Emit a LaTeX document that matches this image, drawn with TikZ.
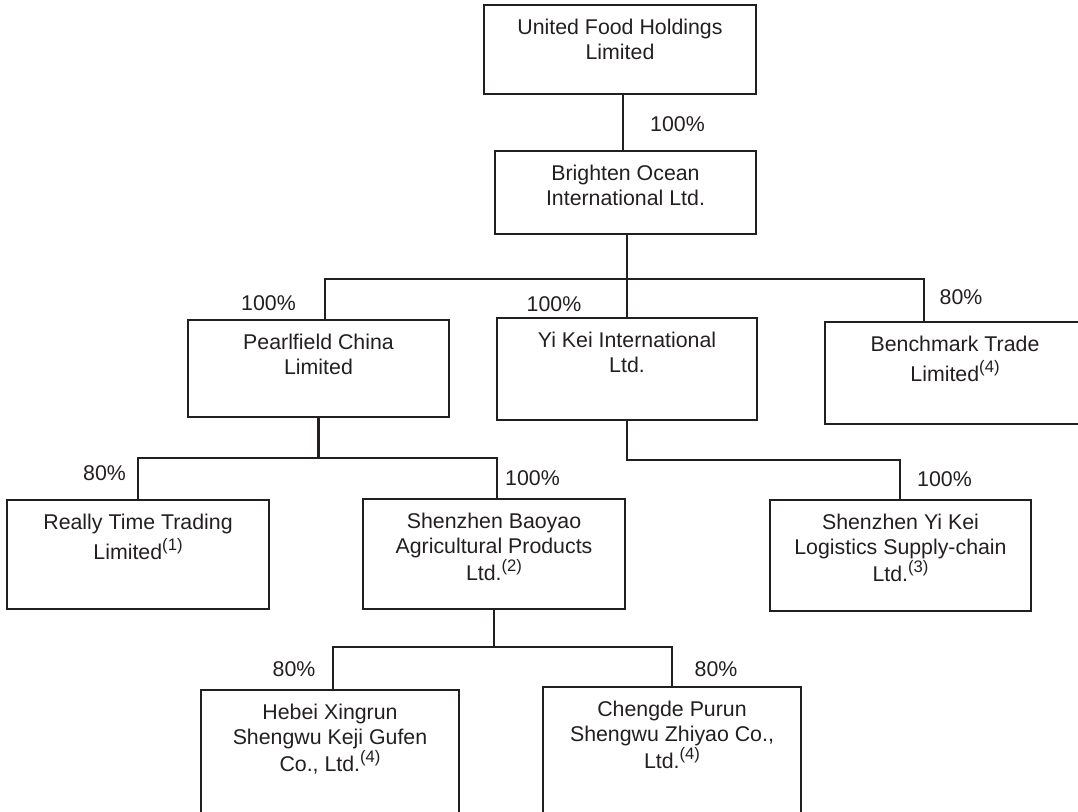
\documentclass[tikz,border=0pt]{standalone}
\usepackage{fontspec}
\setmainfont{Liberation Sans}
\definecolor{ink}{HTML}{231F20}
\newcommand\orgtext[3]{\parbox[c][#2][t]{#1}{\centering\vspace*{8.6pt}\strut #3}}
\newcommand\fnmark[1]{\raisebox{7.2pt}{\fontsize{12.5}{13}\selectfont(#1)}}
\tikzset{
  orgbox/.style={draw=ink, line width=1.7pt, inner sep=0pt, text=ink},
  pct/.style={text=ink, inner sep=0pt},
  conn/.style={draw=ink, line width=1.7pt},
}
\begin{document}
\begin{tikzpicture}[x=0.75pt,y=-0.75pt,font=\fontsize{16}{19}\selectfont]
\useasboundingbox (0,0) rectangle (1078,811);
\clip (0,0) rectangle (1078,811);
% boxes
\node[orgbox] (ufh) at (620,49.5) {\orgtext{204pt}{66.75pt}{United Food Holdings\\Limited}};
\node[orgbox] (boi) at (625.5,192.5) {\orgtext{195.75pt}{62.25pt}{Brighten Ocean\\International Ltd.}};
\node[orgbox] (pcl) at (318.5,368.5) {\orgtext{195.75pt}{72.75pt}{Pearlfield China\\Limited}};
\node[orgbox] (yki) at (627,369) {\orgtext{195pt}{76.5pt}{Yi Kei International\\Ltd.}};
\node[orgbox] (btl) at (955,373) {\orgtext{195pt}{76.5pt}{Benchmark Trade\\Limited\fnmark{4}}};
\node[orgbox] (rtt) at (138,554.5) {\orgtext{196.5pt}{81.75pt}{Really Time Trading\\Limited\fnmark{1}}};
\node[orgbox] (sba) at (494,554) {\orgtext{196.5pt}{82.5pt}{Shenzhen Baoyao\\Agricultural Products\\Ltd.\fnmark{2}}};
\node[orgbox] (syk) at (900.5,555.5) {\orgtext{195.75pt}{83.25pt}{Shenzhen Yi Kei\\Logistics Supply-chain\\Ltd.\fnmark{3}}};
\node[orgbox] (hxs) at (330,775) {\orgtext{193.5pt}{127.5pt}{Hebei Xingrun\\Shengwu Keji Gufen\\Co., Ltd.\fnmark{4}}};
\node[orgbox] (cps) at (672,773.5) {\orgtext{193.5pt}{129.75pt}{Chengde Purun\\Shengwu Zhiyao Co.,\\Ltd.\fnmark{4}}};
% junction coordinates
\coordinate (c1) at (623,0);
\coordinate (b1) at (325,279);
\coordinate (b2) at (924,279);
\coordinate (b3) at (138,458);
\coordinate (b4) at (497,458);
\coordinate (b5) at (900,460);
\coordinate (b6) at (333,647);
\coordinate (b7) at (672,647);
% connectors
\draw[conn] (ufh.south -| c1) -- (boi.north -| c1);
\draw[conn] (yki.north |- boi.south) -- (yki.north);
\draw[conn] (pcl.north -| b1) -- (b1) -- (b2) -- (btl.north -| b2);
\draw[conn] (pcl.south) -- (pcl.south |- b3);
\draw[conn] (rtt.north) -- (b3) -- (b4) -- (sba.north -| b4);
\draw[conn] (yki.south) -- (yki.south |- b5) -- (b5) -- (syk.north -| b5);
\draw[conn] (sba.south) -- (sba.south |- b6);
\draw[conn] (hxs.north -| b6) -- (b6) -- (b7) -- (cps.north -| b7);
% percentages
\node[pct] (p1) at (677.5,124) {100\%};
\node[pct] (p2) at (268.5,303) {100\%};
\node[pct] (p3) at (554,304) {100\%};
\node[pct] (p4) at (961,297) {80\%};
\node[pct] (p5) at (104.5,473) {80\%};
\node[pct] (p6) at (532.5,478) {100\%};
\node[pct] (p7) at (944.5,479) {100\%};
\node[pct] (p8) at (294,669) {80\%};
\node[pct] (p9) at (716,669) {80\%};
\end{tikzpicture}
\end{document}
